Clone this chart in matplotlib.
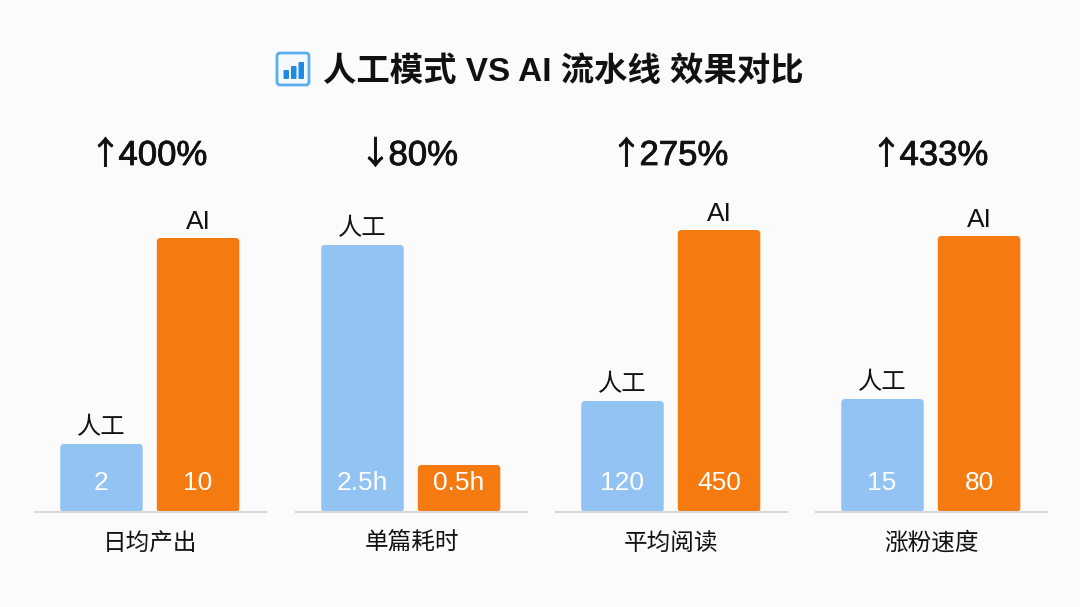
import matplotlib
matplotlib.use("Agg")
import matplotlib.pyplot as plt
import matplotlib.patheffects as pe
from matplotlib.patches import FancyBboxPatch

plt.rcParams['font.family'] = ['Liberation Sans', 'Noto Sans CJK SC', 'DejaVu Sans']

W, H = 1080, 607

title = "人工模式 VS AI 流水线 效果对比"
categories = ["日均产出", "单篇耗时", "平均阅读", "涨粉速度"]
change_arrows = ["↑", "↓", "↑", "↑"]
change_values = ["400%", "80%", "275%", "433%"]
# the drawn heights do not follow the printed values, so both are kept
human_heights = [68, 267, 111, 113]
ai_heights = [274, 47, 282, 276]
human_labels = ["2", "2.5h", "120", "15"]
ai_labels = ["10", "0.5h", "450", "80"]
human_names = ["人工", "人工", "人工", "人工"]
ai_names = ["AI", "", "AI", "AI"]

panel_left = [35, 296, 556, 816]
panel_width = 231
baseline_y = 512
top_y = 120
span = baseline_y - top_y

BLUE = "#93c3f2"
ORANGE = "#f57a10"
BG = "#fbfbfb"
INK = "#111111"

fig = plt.figure(figsize=(W / 100, H / 100), dpi=100, facecolor=BG)

# title and its icon, in pixel coordinates
head = fig.add_axes([0, 0, 1, 1], facecolor="none")
head.set_xlim(0, W)
head.set_ylim(H, 0)
head.axis("off")
head.add_patch(FancyBboxPatch((277, 53), 32, 32, boxstyle="round,pad=0,rounding_size=3",
                              facecolor="#f4f9fe", edgecolor="#5aaeea", linewidth=2))
for x, top in zip([283.5, 291, 298.5], [70, 66, 62]):
    head.add_patch(FancyBboxPatch((x, top), 5.5, 79 - top, boxstyle="round,pad=0,rounding_size=1",
                                  facecolor="#1f8ae6", edgecolor="none"))
head.text(323, 81, title, fontsize=24, fontweight="bold", color=INK, va="baseline", ha="left")

for i in range(len(categories)):
    ax = fig.add_axes([panel_left[i] / W, 1 - baseline_y / H, panel_width / W, span / H],
                      facecolor="none")
    ax.set_xlim(-0.68, 1.70)
    ax.set_ylim(0, span)
    heights = [human_heights[i], ai_heights[i]]
    bars = ax.bar([0.005, 1], heights, width=0.85, color=[BLUE, ORANGE])
    # swap the plain rectangles for rounded ones, same geometry
    for b in bars:
        b.set_visible(False)
        ax.add_patch(FancyBboxPatch((b.get_x(), b.get_y()), b.get_width(), b.get_height(),
                                    boxstyle="round,pad=0,rounding_size=0.04",
                                    mutation_aspect=97, facecolor=b.get_facecolor(),
                                    edgecolor="none", zorder=2, clip_on=False))

    names = [human_names[i], ai_names[i]]
    labels = [human_labels[i], ai_labels[i]]
    for x, h, name, lab in zip([0, 1], heights, names, labels):
        ax.text(x, h + (9 if name == "AI" else 10), name, ha="center", va="baseline",
                fontsize=19 if name == "AI" else 17.5, color=INK)
        ax.text(x, 22, lab, ha="center", va="baseline", fontsize=19, color="#ffffff", zorder=3)

    ax.set_xticks([])
    ax.set_yticks([])
    for s in ["top", "left", "right"]:
        ax.spines[s].set_visible(False)
    ax.spines["bottom"].set_color("#d9d9d9")
    ax.spines["bottom"].set_linewidth(1.5)

    ax.text(0.5, -38 / span, categories[i], transform=ax.transAxes,
            ha="center", va="baseline", fontsize=17, color=INK)

    # arrow comes from the CJK face, Liberation's is too small
    num_left = 0.5 - (23 if len(change_values[i]) == 3 else 32) / panel_width
    t = ax.text(num_left, 1 - 45 / span, change_values[i], transform=ax.transAxes,
                ha="left", va="baseline", fontsize=25, color=INK)
    t.set_path_effects([pe.withStroke(linewidth=0.6, foreground=INK)])
    a = ax.text(num_left + 3 / panel_width, 1 - 44 / span, change_arrows[i], transform=ax.transAxes,
                ha="right", va="baseline", fontsize=23, color=INK,
                family=['Noto Sans CJK SC', 'DejaVu Sans'])
    a.set_path_effects([pe.withStroke(linewidth=0.6, foreground=INK)])

fig.savefig("out.png", dpi=100, facecolor=BG)
